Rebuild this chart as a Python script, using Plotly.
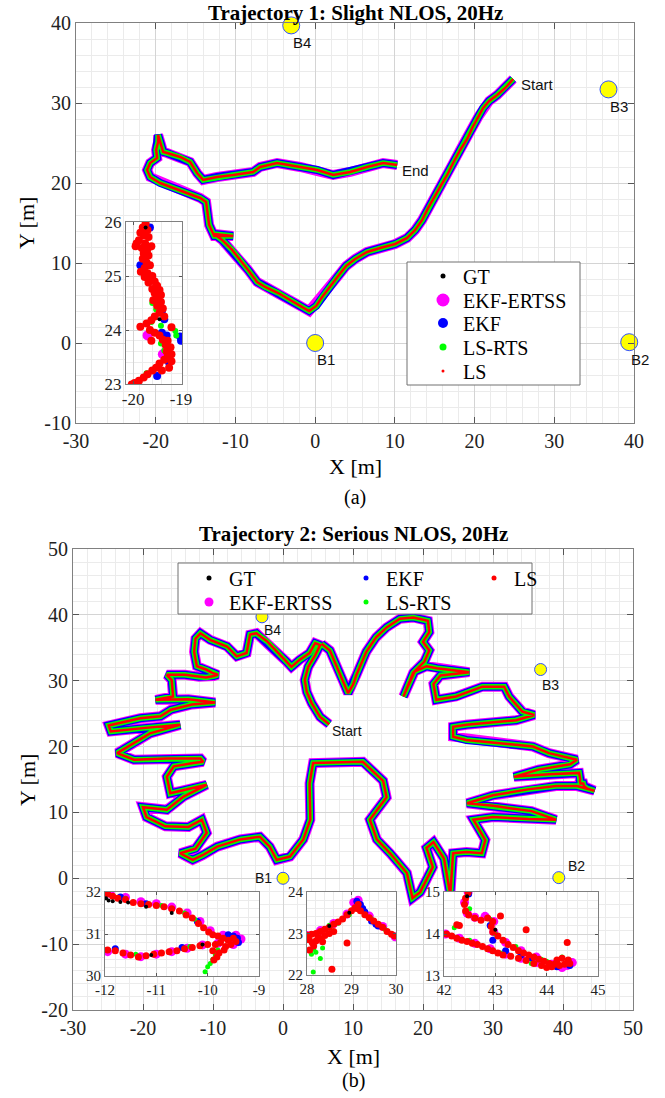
import plotly.graph_objects as go

W, H = 665, 1098
SERIF = "Liberation Serif, Times New Roman, serif"
SANS = "Liberation Sans, Arial, sans-serif"

# ---------------- data ----------------
beacon_names = ["B1", "B2", "B3", "B4"]
beacon_x = [0.0, 39.4, 36.8, -3.0]
beacon_y = [0.0, 0.1, 31.7, 39.7]

traj1 = [(24.84, 33.0), (23.84, 31.88), (22.84, 31.0), (21.83, 30.25), (21.08, 29.38), (20.45, 28.25),
         (19.70, 26.88), (19.07, 25.5), (18.19, 24.13), (17.31, 22.5), (16.56, 21.0), (15.68, 19.5),
         (14.93, 18.25), (14.18, 16.88), (13.43, 15.38), (12.55, 14.13), (11.54, 13.13), (10.04, 12.38),
         (8.16, 11.88), (6.52, 11.38), (5.02, 10.5), (3.89, 9.63), (2.89, 8.38), (1.88, 7.13), (0.88, 5.75),
         (0.13, 4.63), (-0.75, 4.0), (-1.88, 4.63), (-3.14, 5.38), (-4.64, 6.25), (-6.27, 7.0), (-7.28, 7.63),
         (-8.41, 9.13), (-9.41, 10.38), (-10.41, 11.63), (-11.67, 12.88), (-12.67, 13.63), (-10.29, 13.38),
         (-12.67, 13.38), (-13.3, 14.75), (-13.55, 16.63), (-13.68, 17.63), (-14.43, 18.13), (-16.06, 18.75),
         (-17.82, 19.38), (-19.45, 20.0), (-20.7, 20.75), (-21.08, 21.63), (-20.7, 22.5), (-19.82, 23.13),
         (-19.95, 24.13), (-19.7, 25.13), (-19.7, 26.0), (-19.32, 24.75), (-19.07, 23.88), (-18.57, 23.75),
         (-16.94, 23.25), (-15.68, 22.63), (-14.81, 21.25), (-14.05, 20.38), (-12.3, 20.75), (-10.29, 21.0),
         (-7.78, 21.38), (-6.9, 22.0), (-4.77, 22.5), (-1.88, 22.0), (0.25, 21.63), (2.26, 21.0),
         (4.39, 21.38), (6.52, 22.0), (8.53, 22.5), (10.29, 22.25)]

traj2 = [(6.6, 23.4), (5.3, 24.5), (4.1, 26.6), (3.4, 28.3), (3.1, 30.1), (3.6, 32.1), (4.6, 33.9), (5.3, 35.4),
         (4.6, 35.7), (3.8, 34.2), (2.4, 33.2), (1.2, 32.1), (0.5, 32.9), (-0.9, 34.4), (-2.3, 36.0),
         (-3.8, 37.2), (-4.7, 37.0), (-5.2, 34.2), (-6.6, 33.7), (-8.0, 35.2), (-10.4, 36.2), (-11.8, 37.2),
         (-12.5, 36.4), (-12.7, 34.4), (-12.3, 32.2), (-11.0, 31.7), (-10.1, 31.2), (-9.3, 30.9), (-9.9, 30.7),
         (-11.0, 30.5), (-12.0, 30.6), (-14.0, 30.9), (-16.6, 30.9), (-15.9, 30.1), (-15.7, 27.6), (-18.2, 27.1),
         (-13.5, 27.2), (-9.7, 26.7), (-13.0, 26.4), (-16.0, 25.6), (-17.5, 24.6), (-20.4, 24.3), (-24.9, 23.2),
         (-24.6, 22.3), (-20.0, 22.8), (-14.7, 23.3), (-19.0, 22.0), (-23.7, 19.0), (-21.3, 18.0), (-16.6, 18.2),
         (-11.8, 18.2), (-11.4, 17.7), (-12.8, 17.5), (-15.6, 17.0), (-16.6, 15.4), (-16.1, 12.9), (-10.9, 14.2),
         (-14.2, 12.4), (-16.6, 10.4), (-20.0, 10.8), (-19.5, 9.3), (-16.8, 7.9), (-13.5, 7.8), (-11.6, 8.9),
         (-10.9, 6.9), (-12.5, 4.5), (-14.7, 3.8), (-12.9, 2.8), (-11.5, 3.5), (-9.4, 4.8), (-6.1, 5.9),
         (-3.3, 6.3), (-1.9, 4.8), (-0.9, 2.8), (1.0, 3.3), (2.9, 5.9), (3.9, 8.9), (3.8, 14.4), (4.3, 17.5),
         (8.0, 17.6), (11.4, 17.7), (14.3, 14.8), (14.8, 12.3), (12.4, 8.9), (13.4, 5.9), (15.3, 3.8),
         (17.7, 0.8), (18.5, -3.0), (19.6, -2.1), (21.4, 1.7), (20.5, 4.6), (21.5, 5.5), (23.0, 3.0),
         (23.9, -2.5), (24.3, 3.8), (26.2, 4.0), (28.4, 3.8), (28.9, 5.8), (27.2, 8.9), (30.0, 9.3), (35.0, 9.0),
         (39.0, 8.9), (35.5, 10.2), (30.0, 11.0), (26.3, 11.4), (30.0, 12.6), (35.0, 13.5), (39.0, 14.0),
         (42.0, 14.0), (44.5, 13.3), (43.5, 13.6), (43.0, 14.0), (42.9, 14.4), (42.5, 14.4), (42.4, 14.8),
         (42.47, 15.0), (42.3, 16.0), (38.0, 15.8), (33.0, 15.4), (36.5, 16.5), (41.0, 17.3), (42.0, 18.0),
         (38.0, 19.0), (35.7, 20.0), (30.9, 20.5), (26.2, 21.0), (24.3, 21.5), (24.3, 23.0), (26.2, 23.3),
         (33.3, 24.0), (35.9, 24.8), (34.2, 25.3), (32.3, 27.6), (31.6, 29.1), (28.5, 29.1), (24.7, 27.6),
         (21.9, 27.1), (21.5, 29.5), (22.5, 30.8), (26.6, 31.3), (22.0, 31.9), (20.5, 32.2), (18.8, 31.4),
         (17.2, 27.6), (18.6, 31.2), (20.2, 32.9), (20.9, 34.6), (20.0, 35.9), (20.9, 37.4), (20.7, 39.1),
         (18.6, 39.6), (16.7, 39.4), (14.8, 38.1), (13.3, 36.6), (11.9, 34.4), (10.5, 30.9), (10.0, 29.4),
         (9.3, 28.1), (8.6, 29.9), (7.6, 32.4), (6.7, 34.6), (5.5, 35.6)]

# inset (a): x -20.15..-18.98, y 23..26
ins1_ls = [(-19.74, 25.97), (-19.8, 25.9), (-19.7, 25.85), (-19.85, 25.8), (-19.78, 25.75), (-19.68, 25.72),
           (-19.88, 25.66), (-19.93, 25.6), (-19.75, 25.6), (-19.82, 25.52), (-19.7, 25.5), (-19.78, 25.42),
           (-19.68, 25.38), (-19.8, 25.32), (-19.72, 25.25), (-19.65, 25.2), (-19.76, 25.15), (-19.84, 25.08),
           (-19.7, 25.05), (-19.76, 24.98), (-19.62, 24.95), (-19.55, 24.9), (-19.68, 24.88), (-19.5, 24.82),
           (-19.6, 24.76), (-19.45, 24.74), (-19.55, 24.68), (-19.48, 24.6), (-19.58, 24.55), (-19.42, 24.52),
           (-19.5, 24.45), (-19.38, 24.4), (-19.45, 24.32), (-19.55, 24.25), (-19.62, 24.18), (-19.72, 24.12),
           (-19.85, 24.06), (-19.65, 24.0), (-19.55, 23.95), (-19.45, 23.9), (-19.38, 23.82), (-19.28, 23.8),
           (-19.32, 23.72), (-19.22, 23.68), (-19.3, 23.6), (-19.2, 23.55), (-19.28, 23.5), (-19.35, 23.45),
           (-19.45, 23.38), (-19.52, 23.3), (-19.6, 23.25), (-19.7, 23.18), (-19.78, 23.12), (-19.88, 23.06),
           (-19.97, 23.02), (-20.03, 22.99), (-19.2, 24.05), (-19.95, 25.55), (-19.62, 25.55), (-19.6, 25.0),
           (-19.42, 24.65), (-19.35, 24.25), (-19.2, 23.42), (-19.25, 23.3), (-19.4, 23.25), (-19.62, 23.8)]
ins1_lsrts = [(-19.8, 25.82), (-19.7, 25.45), (-19.72, 25.05), (-19.55, 24.78), (-19.52, 24.38), (-19.62, 24.15),
              (-19.42, 24.08), (-19.12, 23.98), (-19.1, 23.9), (-19.42, 23.75), (-19.35, 23.62), (-19.72, 23.2),
              (-19.92, 23.02), (-19.6, 24.5)]
ins1_ekf = [(-19.65, 25.9), (-19.85, 25.2), (-19.4, 24.35), (-19.35, 24.2), (-19.4, 23.95), (-19.3, 23.9),
            (-19.35, 23.85), (-19.02, 23.88), (-19.0, 23.8), (-19.3, 23.7), (-19.25, 23.4), (-19.5, 23.15)]
ins1_ertss = [(-19.38, 23.55), (-19.7, 23.9)]
ins1_gt = [(-19.74, 25.9), (-19.45, 24.2)]

# inset (b-1): x -12..-9, y 30..32
insA_ls = [(-11.95, 31.95), (-11.85, 31.9), (-11.75, 31.85), (-11.6, 31.82), (-11.45, 31.75), (-11.3, 31.72),
           (-11.15, 31.7), (-11.0, 31.68), (-10.85, 31.65), (-10.7, 31.6), (-10.55, 31.55), (-10.42, 31.45),
           (-10.3, 31.38), (-10.18, 31.25), (-10.08, 31.15), (-9.98, 31.05), (-9.9, 30.98), (-9.8, 30.95),
           (-9.7, 30.9), (-9.6, 30.85), (-9.55, 30.75), (-9.65, 30.7), (-9.75, 30.8), (-9.85, 30.75), (-9.9, 30.6),
           (-9.78, 30.55), (-9.68, 30.62), (-9.5, 30.9), (-9.45, 30.82), (-9.82, 30.45), (-9.88, 30.38),
           (-10.0, 30.75), (-10.15, 30.72), (-10.3, 30.68), (-10.45, 30.65), (-10.6, 30.6), (-10.75, 30.58),
           (-10.9, 30.55), (-11.05, 30.52), (-11.2, 30.48), (-11.35, 30.45), (-11.5, 30.5), (-11.65, 30.55),
           (-11.8, 30.6), (-11.95, 30.62)]
insA_lsrts = [(-11.6, 31.85), (-10.9, 31.68), (-10.45, 31.5), (-10.25, 31.35), (-11.4, 30.52), (-10.35, 30.7),
              (-9.8, 30.62), (-9.85, 30.5), (-9.9, 30.4), (-9.95, 30.3), (-10.0, 30.22), (-10.05, 30.1)]
insA_ekf = [(-11.7, 31.88), (-11.2, 31.72), (-10.2, 31.3), (-9.5, 30.95), (-9.42, 30.9), (-11.8, 30.65),
            (-10.5, 30.68), (-9.6, 30.98), (-9.4, 30.8)]
insA_ertss = [(-11.9, 31.97), (-11.6, 31.87), (-11.3, 31.77), (-11.0, 31.72), (-10.7, 31.64), (-10.4, 31.5),
              (-10.15, 31.3), (-9.95, 31.08), (-9.7, 30.97), (-9.45, 30.97), (-9.35, 30.88), (-9.5, 30.75),
              (-9.8, 30.78), (-10.1, 30.74), (-10.4, 30.66), (-10.7, 30.58), (-11.0, 30.52), (-11.3, 30.46),
              (-11.6, 30.52), (-11.95, 30.58)]
insA_gt = [(-11.98, 31.85), (-11.93, 31.8), (-11.85, 31.78), (-11.7, 31.76), (-11.55, 31.75), (-11.2, 31.65),
           (-10.7, 31.5), (-10.1, 30.75), (-11.1, 30.5)]

# inset (b-2): x 28..30, y 22..24
insB_ls = [(28.0, 22.96), (28.1, 22.98), (28.2, 23.0), (28.3, 23.05), (28.4, 23.1), (28.5, 23.15), (28.6, 23.22),
           (28.7, 23.28), (28.8, 23.35), (28.9, 23.45), (29.0, 23.55), (29.08, 23.62), (29.15, 23.7),
           (29.12, 23.6), (29.2, 23.55), (29.3, 23.45), (29.4, 23.38), (29.5, 23.3), (29.6, 23.22), (29.7, 23.15),
           (29.8, 23.05), (29.9, 22.98), (29.97, 22.94), (28.05, 22.85), (28.12, 22.78), (28.2, 22.82),
           (28.3, 22.88), (28.4, 22.95), (28.5, 23.0), (28.6, 23.05), (28.15, 22.7), (28.25, 22.9), (28.35, 22.8),
           (28.06, 22.6), (28.9, 22.77), (28.56, 22.14)]
insB_lsrts = [(28.1, 22.5), (28.14, 22.07), (28.2, 22.55), (28.35, 22.65), (28.3, 22.4), (28.5, 23.2),
              (28.7, 23.25), (28.95, 23.45), (29.45, 23.35), (29.75, 23.1), (28.15, 22.62)]
insB_ekf = [(29.12, 23.78), (29.2, 23.7), (29.3, 23.52), (29.45, 23.3), (29.55, 23.22), (29.6, 23.18),
            (29.25, 23.6)]
insB_ertss = [(28.0, 22.95), (28.3, 23.07), (28.6, 23.24), (28.9, 23.47), (29.1, 23.74), (29.15, 23.8),
              (29.4, 23.42), (29.7, 23.17), (29.98, 22.92), (29.05, 23.75)]
insB_gt = [(28.5, 23.18), (28.95, 23.5)]

# inset (b-3): x 42..45, y 13..15
insC_ls = [(42.47, 14.98), (42.42, 14.85), (42.4, 14.7), (42.42, 14.55), (42.48, 14.45), (42.6, 14.38),
           (42.72, 14.33), (42.85, 14.38), (42.95, 14.3), (42.92, 14.18), (42.95, 14.05), (43.05, 13.95),
           (43.15, 13.85), (43.25, 13.75), (43.35, 13.68), (43.45, 13.6), (43.55, 13.55), (43.65, 13.5),
           (43.75, 13.45), (43.85, 13.4), (43.95, 13.35), (44.05, 13.3), (44.15, 13.28), (44.25, 13.25),
           (44.35, 13.28), (44.45, 13.3), (44.42, 13.38), (44.3, 13.42), (44.2, 13.38), (44.1, 13.22),
           (44.0, 13.2), (43.9, 13.25), (42.05, 14.0), (42.15, 13.95), (42.25, 13.9), (42.35, 13.85),
           (42.45, 13.82), (42.55, 13.78), (42.65, 13.75), (42.75, 13.7), (42.85, 13.65), (42.95, 13.6),
           (43.05, 13.55), (43.15, 13.5), (43.3, 13.47), (43.45, 13.42), (43.6, 13.37), (43.75, 13.3),
           (43.6, 14.1), (44.4, 13.8), (43.1, 14.43), (42.3, 14.2), (42.25, 14.22)]
insC_lsrts = [(42.5, 14.6), (42.9, 14.35), (43.0, 14.0), (42.2, 14.15), (42.5, 13.85), (43.1, 13.55),
              (43.4, 13.7), (43.9, 13.4), (44.3, 13.45), (43.7, 13.3), (44.0, 13.35)]
insC_ekf = [(42.48, 14.95), (42.9, 14.2), (42.95, 13.85), (43.2, 13.6), (43.5, 13.5), (44.2, 13.22),
            (44.45, 13.25), (43.7, 13.42)]
insC_ertss = [(42.47, 15.0), (42.4, 14.75), (42.45, 14.5), (42.6, 14.4), (42.8, 14.42), (42.97, 14.3),
              (42.97, 14.05), (43.2, 13.8), (43.5, 13.6), (43.8, 13.45), (44.1, 13.28), (44.4, 13.25),
              (44.5, 13.32), (44.3, 13.2), (42.03, 14.0), (42.3, 13.9), (42.6, 13.78), (42.9, 13.65),
              (43.2, 13.52), (43.5, 13.42), (43.8, 13.32)]
insC_gt = [(42.45, 14.9), (43.0, 14.1)]

series_names = ["GT", "EKF-ERTSS", "EKF", "LS-RTS", "LS"]
series_colors = ["#000000", "#ff00ff", "#0000ff", "#00ff00", "#ff0000"]


# ---------------- helpers ----------------
def fx(p):
    return p / W


def fy(p):
    return 1 - p / H


def xs(pts):
    return [p[0] for p in pts]


def ys(pts):
    return [p[1] for p in pts]


fig = go.Figure()

band = [("#ff00ff", 10), ("#0000ff", 8), ("#00ff00", 5.5), ("#ff0000", 2.5)]

for traj, xa, ya in [(traj1, "x", "y"), (traj2, "x3", "y3")]:
    for col, wd in band:
        fig.add_trace(go.Scatter(x=xs(traj), y=ys(traj), mode="lines", xaxis=xa, yaxis=ya,
                                 line=dict(color=col, width=wd), showlegend=False, hoverinfo="skip"))

for xa, ya, sz in [("x", "y", 17), ("x3", "y3", 12)]:
    fig.add_trace(go.Scatter(x=beacon_x, y=beacon_y, mode="markers", xaxis=xa, yaxis=ya, cliponaxis=False,
                             marker=dict(size=sz, color="#ffff00", line=dict(color="#3050ff", width=1)),
                             showlegend=False))

insets = [("x2", "y2", [4, 10, 8, 6, 8], ins1_gt, ins1_ertss, ins1_ekf, ins1_lsrts, ins1_ls),
          ("x4", "y4", [4, 9, 7, 5, 7], insA_gt, insA_ertss, insA_ekf, insA_lsrts, insA_ls),
          ("x5", "y5", [4, 9, 7, 5, 7], insB_gt, insB_ertss, insB_ekf, insB_lsrts, insB_ls),
          ("x6", "y6", [4, 9, 7, 5, 7], insC_gt, insC_ertss, insC_ekf, insC_lsrts, insC_ls)]
for xa, ya, msz, gt, er, ek, lr, ls in insets:
    order = [(er, 1), (ek, 2), (lr, 3), (ls, 4), (gt, 0)]
    for pts, k in order:
        fig.add_trace(go.Scatter(x=xs(pts), y=ys(pts), mode="markers", xaxis=xa, yaxis=ya,
                                 marker=dict(size=msz[k], color=series_colors[k]), showlegend=False))

# legends (one legend per entry, positioned like the original)
leg1_sizes = [5, 13, 10, 7, 3]
leg1_rows = [276, 300, 323, 347, 371]
leg_layout = {}
n = 0
for i in range(5):
    n += 1
    key = "legend" if n == 1 else f"legend{n}"
    fig.add_trace(go.Scatter(x=[None], y=[None], mode="markers", name=series_names[i], legend=key,
                             marker=dict(size=leg1_sizes[i], color=series_colors[i])))
    leg_layout[key] = dict(x=fx(423), y=fy(leg1_rows[i]), xanchor="left", yanchor="middle",
                           bgcolor="rgba(0,0,0,0)", borderwidth=0,
                           font=dict(family=SERIF, size=20, color="#000"))

leg2_pos = {"GT": (189, 578), "EKF": (346, 578), "LS": (474, 578), "EKF-ERTSS": (189, 602), "LS-RTS": (346, 602)}
leg2_sizes = {"GT": 5, "EKF-ERTSS": 9, "EKF": 5, "LS-RTS": 5, "LS": 5}
for i, nm in enumerate(series_names):
    n += 1
    key = f"legend{n}"
    fig.add_trace(go.Scatter(x=[None], y=[None], mode="markers", name=nm, legend=key, xaxis="x3", yaxis="y3",
                             marker=dict(size=leg2_sizes[nm], color=series_colors[i])))
    lx, ly = leg2_pos[nm]
    leg_layout[key] = dict(x=fx(lx), y=fy(ly), xanchor="left", yanchor="middle",
                           bgcolor="rgba(0,0,0,0)", borderwidth=0,
                           font=dict(family=SERIF, size=20, color="#000"))


def tick_labels(vals):
    return [f"{v:g}" for v in vals]


AX_LINE = "#808080"


def main_axis(domain, rng, vals, minor_dt, anchor):
    return dict(domain=domain, range=rng, tickmode="array", tickvals=vals, ticktext=tick_labels(vals),
                showline=True, linecolor=AX_LINE, linewidth=1, mirror="ticks", ticks="inside", ticklen=6,
                tickcolor="#555", showgrid=True, gridcolor="#d4d4d4", gridwidth=1, zeroline=False, anchor=anchor,
                tickfont=dict(family=SERIF, size=20, color="#222"),
                minor=dict(dtick=minor_dt, tick0=0, showgrid=True, gridcolor="#ebebeb", ticks=""))


def inset_axis(domain, rng, vals, minor_dt, fs, anchor):
    return dict(domain=domain, range=rng, tickmode="array", tickvals=vals, ticktext=tick_labels(vals),
                showline=True, linecolor=AX_LINE, linewidth=1, mirror="ticks", ticks="inside", ticklen=3,
                tickcolor="#555", showgrid=True, gridcolor="#d4d4d4", zeroline=False, anchor=anchor,
                tickfont=dict(family=SERIF, size=fs, color="#222"),
                minor=dict(dtick=minor_dt, tick0=0, showgrid=True, gridcolor="#ebebeb", ticks=""))


layout = dict(
    width=W, height=H, margin=dict(l=0, r=0, t=0, b=0, autoexpand=False),
    paper_bgcolor="white", plot_bgcolor="white", showlegend=True,
    xaxis=main_axis([fx(76), fx(634)], [-30, 40], list(range(-30, 41, 10)), 2, "y"),
    yaxis=main_axis([fy(423), fy(23)], [-10, 40], list(range(-10, 41, 10)), 2, "x"),
    xaxis2=inset_axis([fx(126), fx(182)], [-20.15, -18.98], [-20, -19], 0.2, 17, "y2"),
    yaxis2=inset_axis([fy(384), fy(222)], [23, 26], [23, 24, 25, 26], 0.2, 17, "x2"),
    xaxis3=main_axis([fx(73), fx(633)], [-30, 50], list(range(-30, 51, 10)), 2, "y3"),
    yaxis3=main_axis([fy(1010), fy(549)], [-20, 50], list(range(-20, 51, 10)), 2, "x3"),
    xaxis4=inset_axis([fx(105), fx(259)], [-12, -9], [-12, -11, -10, -9], 0.2, 15, "y4"),
    yaxis4=inset_axis([fy(976), fy(892)], [30, 32], [30, 31, 32], 0.2, 15, "x4"),
    xaxis5=inset_axis([fx(307), fx(396)], [28, 30], [28, 29, 30], 0.2, 15, "y5"),
    yaxis5=inset_axis([fy(975), fy(892)], [22, 24], [22, 23, 24], 0.2, 15, "x5"),
    xaxis6=inset_axis([fx(444), fx(598)], [42, 45], [42, 43, 44, 45], 0.2, 15, "y6"),
    yaxis6=inset_axis([fy(976), fy(892)], [13, 15], [13, 14, 15], 0.2, 15, "x6"),
)
layout.update(leg_layout)

layout["shapes"] = [
    dict(type="rect", xref="paper", yref="paper", x0=fx(407), x1=fx(580), y0=fy(385), y1=fy(262),
         line=dict(color="#707070", width=1), fillcolor="white", layer="above"),
    dict(type="rect", xref="paper", yref="paper", x0=fx(178), x1=fx(532), y0=fy(614), y1=fy(563),
         line=dict(color="#707070", width=1), fillcolor="white", layer="above"),
]


def pa(text, xp, ypix, size, bold=False, angle=0, family=SERIF):
    return dict(text=f"<b>{text}</b>" if bold else text, xref="paper", yref="paper", x=fx(xp), y=fy(ypix),
                xanchor="center", yanchor="middle", showarrow=False, textangle=angle,
                font=dict(family=family, size=size, color="#000"))


annotations = [
    pa("Trajectory 1: Slight NLOS, 20Hz", 355, 13, 21, bold=True),
    pa("X [m]", 355, 466, 22),
    pa("Y [m]", 27, 223, 22, angle=-90),
    pa("(a)", 355, 497, 20),
    pa("Trajectory 2: Serious NLOS, 20Hz", 353, 534, 21, bold=True),
    pa("X [m]", 353, 1056, 22),
    pa("Y [m]", 27, 780, 22, angle=-90),
    pa("(b)", 353, 1080, 20),
]


def da(text, x, y, xa, ya, xanchor, xshift, yshift, size):
    return dict(text=text, x=x, y=y, xref=xa, yref=ya, xanchor=xanchor, yanchor="middle", showarrow=False,
                xshift=xshift, yshift=yshift, font=dict(family=SANS, size=size, color="#111"))


lab1 = {"B1": ("left", 0, -17), "B2": ("left", 0, -17), "B3": ("left", 0, -17), "B4": ("left", 0, -17)}
lab2 = {"B1": ("right", -9, 0), "B2": ("left", 7, 12), "B3": ("left", -1, -15), "B4": ("left", 0, -13)}
for i, nm in enumerate(beacon_names):
    a, sx, sy = lab1[nm]
    annotations.append(da(nm, beacon_x[i], beacon_y[i], "x", "y", a, sx, sy, 15))
    a, sx, sy = lab2[nm]
    annotations.append(da(nm, beacon_x[i], beacon_y[i], "x3", "y3", a, sx, sy, 14))
annotations.append(da("Start", traj1[0][0], traj1[0][1], "x", "y", "left", 6, -6, 15))
annotations.append(da("End", traj1[-1][0], traj1[-1][1], "x", "y", "left", 3, -6, 15))
annotations.append(da("Start", traj2[0][0], traj2[0][1], "x3", "y3", "left", 1, -7, 14))
layout["annotations"] = annotations

fig.update_layout(**layout)
fig.write_html("out.html")
